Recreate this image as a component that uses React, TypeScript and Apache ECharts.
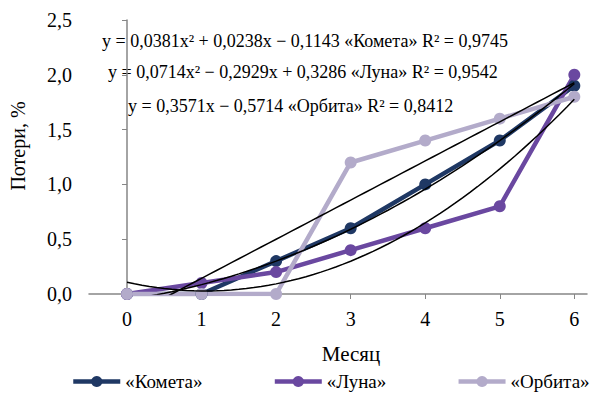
import React, { useEffect, useRef } from "react";
import * as echarts from "echarts";

const months = [0, 1, 2, 3, 4, 5, 6];
const kometa = [0, 0, 0.3, 0.6, 1.0, 1.4, 1.9];
const luna = [0, 0.1, 0.2, 0.4, 0.6, 0.8, 2.0];
const orbita = [0, 0, 0, 1.2, 1.4, 1.6, 1.8];
const seriesNames = ["«Комета»", "«Луна»", "«Орбита»"];
const colors = ["#1F3864", "#6A48A0", "#B3ABCA"];
// trendline coefficients [a2, a1, a0] with Excel x = month + 1
const trendKometa = [0.0381, 0.0238, -0.1143];
const trendLuna = [0.0714, -0.2929, 0.3286];
const trendOrbita = [0, 0.3571, -0.5714];
const equations = [
  "y = 0,0381x² + 0,0238x − 0,1143 «Комета» R² = 0,9745",
  "y = 0,0714x² − 0,2929x + 0,3286 «Луна» R² = 0,9542",
  "y = 0,3571x − 0,5714 «Орбита» R² = 0,8412",
];
const yTicks = [0, 0.5, 1, 1.5, 2, 2.5];

const FONT = "Liberation Serif";

function trend(c: number[]) {
  const pts: number[][] = [];
  for (let i = 0; i <= 60; i++) {
    const m = i / 10;
    const t = m + 1;
    pts.push([m, c[0] * t * t + c[1] * t + c[2]]);
  }
  return pts;
}

export default function App() {
  const ref = useRef<HTMLDivElement>(null);
  useEffect(() => {
    if (!ref.current) return;
    const chart = echarts.init(ref.current, undefined, { renderer: "svg" });
    const data = [kometa, luna, orbita];
    const mainSeries = data.map((d, i) => ({
      name: seriesNames[i],
      type: "line",
      data: d.map((v, j) => [months[j], v]),
      symbol: "circle",
      symbolSize: 12,
      lineStyle: { width: 4.5, color: colors[i] },
      itemStyle: { color: colors[i] },
      z: 2,
    }));
    const trendSeries = [trendKometa, trendLuna, trendOrbita].map((c) => ({
      type: "line",
      data: trend(c),
      symbol: "none",
      lineStyle: { width: 1.5, color: "#000" },
      silent: true,
      z: 3,
    }));
    chart.setOption({
      animation: false,
      grid: { left: 89, right: 16, top: 20, bottom: 100 },
      legend: {
        data: seriesNames,
        left: 71,
        top: 372,
        padding: 0,
        itemWidth: 47,
        itemHeight: 14,
        itemGap: 70,
        lineStyle: { width: 4.5 },
        textStyle: { fontFamily: FONT, fontSize: 19, color: "#000" },
      },
      xAxis: {
        type: "value",
        min: -0.51,
        max: 6.17,
        name: "Месяц",
        nameLocation: "middle",
        nameGap: 49,
        nameTextStyle: { fontFamily: FONT, fontSize: 21, color: "#000", padding: [0, 0, 0, 26] },
        axisLine: { lineStyle: { color: "#868686", width: 1.5 } },
        axisTick: { show: true, customValues: months, length: 5, lineStyle: { color: "#868686" } },
        axisLabel: { customValues: months, fontFamily: FONT, fontSize: 20, color: "#000", margin: 15 },
        splitLine: { show: false },
      },
      yAxis: {
        type: "value",
        min: 0,
        max: 2.5,
        interval: 0.5,
        name: "Потери, %",
        nameLocation: "middle",
        nameGap: 61,
        nameTextStyle: { fontFamily: FONT, fontSize: 20, color: "#000", padding: [0, 0, 0, 22] },
        axisLine: { show: true, lineStyle: { color: "#868686", width: 1.5 } },
        axisTick: { show: true, length: 5, lineStyle: { color: "#868686" } },
        axisLabel: {
          fontFamily: FONT,
          fontSize: 20,
          color: "#000",
          margin: 17,
          formatter: (v: number) => (yTicks.includes(v) ? v.toFixed(1).replace(".", ",") : ""),
        },
        splitLine: { show: false },
      },
      graphic: equations.map((t, i) => ({
        type: "text",
        left: [102, 108, 128][i],
        top: [32, 63, 97][i],
        style: { text: t, fontFamily: FONT, fontSize: 18, fill: "#000" },
      })),
      series: [...mainSeries, ...trendSeries],
    });
    return () => chart.dispose();
  }, []);
  return <div ref={ref} style={{ width: 603, height: 394, position: "absolute", left: 0, top: 0 }} />;
}
